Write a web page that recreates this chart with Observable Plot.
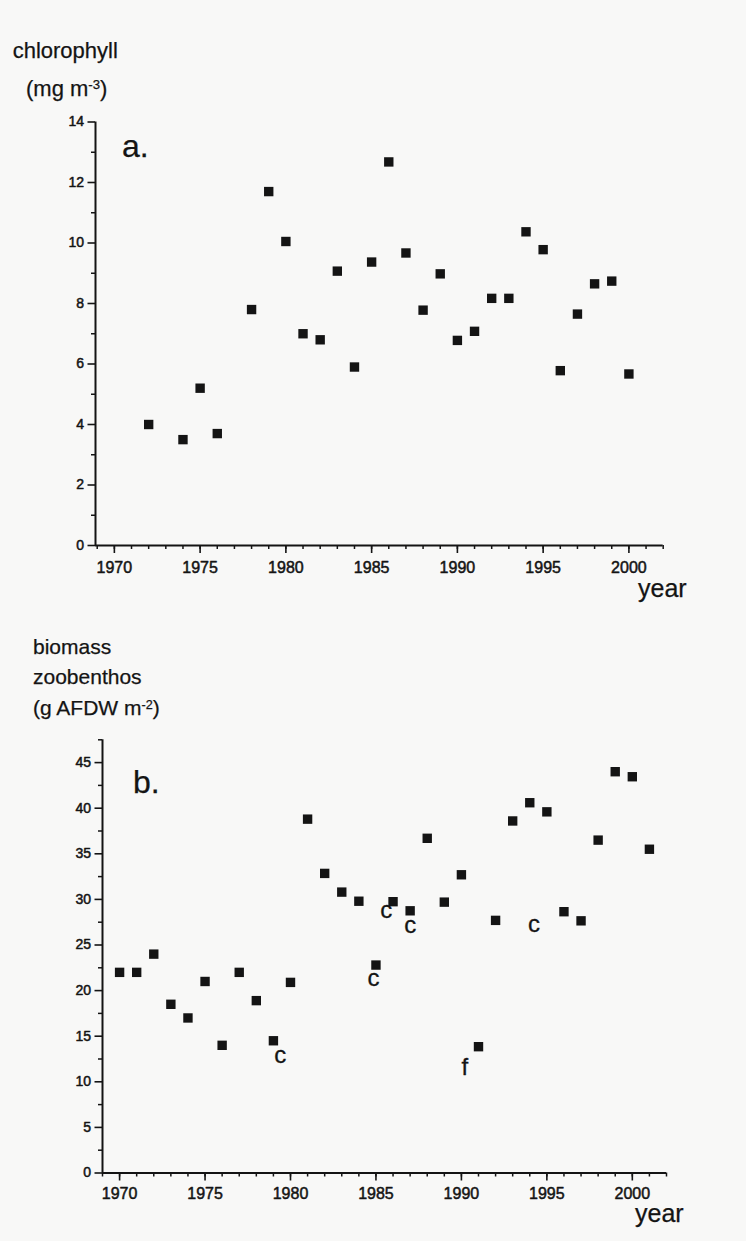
<!DOCTYPE html>
<html>
<head>
<meta charset="utf-8">
<script src="https://cdn.jsdelivr.net/npm/d3@7"></script>
<script src="https://cdn.jsdelivr.net/npm/@observablehq/plot@0.6"></script>
<style>
  html, body { margin: 0; padding: 0; background: #f8f8f7; }
  #chart { position: relative; width: 746px; height: 1241px; overflow: hidden;
           font-family: "Liberation Sans", Arial, Helvetica, sans-serif; color: #141414; }
  .panel { position: absolute; left: 0; }
  .lbl { position: absolute; white-space: nowrap; line-height: 1; -webkit-text-stroke: 0.25px #141414; }
  .sup { position: relative; top: -0.5em; font-size: 0.6em; }
</style>
</head>
<body>
<div id="chart"></div>
<script>
// ---------- data ----------
// panel a: chlorophyll (mg m-3)
const yearsA = [1972, 1974, 1975, 1976, 1978, 1979, 1980, 1981, 1982, 1983, 1984, 1985, 1986, 1987,
                1988, 1989, 1990, 1991, 1992, 1993, 1994, 1995, 1996, 1997, 1998, 1999, 2000];
const chlorophyll = [4.0, 3.5, 5.2, 3.7, 7.8, 11.7, 10.05, 7.0, 6.8, 9.07, 5.9, 9.37, 12.68, 9.67,
                     7.78, 8.98, 6.78, 7.08, 8.17, 8.17, 10.37, 9.78, 5.78, 7.65, 8.65, 8.74, 5.67];

// panel b: biomass zoobenthos (g AFDW m-2)
const yearsB = [1970, 1971, 1972, 1973, 1974, 1975, 1976, 1977, 1978, 1979, 1980, 1981, 1982, 1983,
                1984, 1985, 1986, 1987, 1988, 1989, 1990, 1991, 1992, 1993, 1994, 1995, 1996, 1997,
                1998, 1999, 2000, 2001];
const biomass = [22.0, 22.0, 24.0, 18.5, 17.0, 21.0, 14.0, 22.0, 18.9, 14.5, 20.9, 38.8, 32.85, 30.8,
                 29.8, 22.8, 29.75, 28.75, 36.7, 29.7, 32.7, 13.85, 27.7, 38.6, 40.6, 39.6, 28.65, 27.65,
                 36.5, 44.0, 43.45, 35.5];

// annotation letters in panel b
const noteYears  = [1979.4, 1984.85, 1985.6, 1987.0, 1994.25, 1990.2];
const noteValues = [12.9, 21.4, 28.8, 27.2, 27.3, 11.6];
const noteTexts  = ["c", "c", "c", "c", "c", "f"];

// ticks
const xMajorTicks = [1970, 1975, 1980, 1985, 1990, 1995, 2000];
const xMinorTicks = d3.range(1969, 2003);
const yMajorTicksA = [0, 2, 4, 6, 8, 10, 12, 14];
const yMinorTicksA = [1, 3, 5, 7, 9, 11, 13];
const yMajorTicksB = [0, 5, 10, 15, 20, 25, 30, 35, 40, 45];
const yMinorTicksB = [2.5, 7.5, 12.5, 17.5, 22.5, 27.5, 32.5, 37.5, 42.5, 47.5];

const xDomainA = [1968.9, 2002];
const yDomainA = [0, 14];
const xDomainB = [1969, 2002];
const yDomainB = [0, 47.5];

// ---------- helpers ----------
const INK = "#141414";
const FONT = "'Liberation Sans', Arial, Helvetica, sans-serif";
const chart = document.getElementById("chart");

function addLabel(html, left, baseline, size) {
  const d = document.createElement("div");
  d.className = "lbl";
  d.style.left = left + "px";
  d.style.top = (baseline - 0.8465 * size) + "px";
  d.style.fontSize = size + "px";
  d.innerHTML = html;
  chart.appendChild(d);
}

function panel(opts) {
  const pts = opts.years.map((y, i) => ({year: y, value: opts.values[i]}));
  const notes = (opts.notes || []);
  const svg = Plot.plot({
    width: 746,
    height: opts.height,
    marginTop: opts.marginTop,
    marginBottom: opts.marginBottom,
    marginLeft: opts.marginLeft,
    marginRight: opts.marginRight,
    style: {background: "transparent", fontFamily: FONT, color: INK, overflow: "visible"},
    x: {domain: opts.xDomain},
    y: {domain: opts.yDomain},
    marks: [
      Plot.axisX({ticks: xMinorTicks, tickSize: 4, tickFormat: () => "", label: null,
                  stroke: INK, strokeWidth: 1.5}),
      Plot.axisX({ticks: xMajorTicks, tickSize: 8, tickPadding: opts.xPad, tickFormat: d => String(d),
                  label: null, stroke: INK, fill: INK, strokeWidth: 1.6, fontSize: 16,
                  textStroke: INK, textStrokeWidth: 0.5}),
      Plot.axisY({ticks: opts.yMinor, tickSize: 4, tickFormat: () => "", label: null,
                  stroke: INK, strokeWidth: 1.5}),
      Plot.axisY({ticks: opts.yMajor, tickSize: 7.5, tickPadding: 4, tickFormat: d => String(d),
                  label: null, stroke: INK, fill: INK, strokeWidth: 1.6, fontSize: 14,
                  textStroke: INK, textStrokeWidth: 0.5}),
      Plot.ruleY([opts.yDomain[0]], {stroke: INK, strokeWidth: 2}),
      Plot.ruleX([opts.xDomain[0]], {stroke: INK, strokeWidth: 2}),
      Plot.dot(pts, {x: "year", y: "value", symbol: "square", r: 5.3, fill: INK, stroke: "none"}),
      Plot.text(notes, {x: "year", y: "value", text: "label", fontSize: 24, fill: INK,
                        stroke: INK, strokeWidth: 0.3})
    ]
  });
  const wrap = document.createElement("div");
  wrap.className = "panel";
  wrap.style.top = opts.top + "px";
  wrap.appendChild(svg);
  chart.appendChild(wrap);
}

// ---------- panel a ----------
panel({
  top: 0, height: 610, marginTop: 121.5, marginBottom: 65, marginLeft: 95, marginRight: 83.3,
  xDomain: xDomainA, yDomain: yDomainA, yMajor: yMajorTicksA, yMinor: yMinorTicksA,
  years: yearsA, values: chlorophyll, xPad: 8.5
});

// ---------- panel b ----------
panel({
  top: 610, height: 631, marginTop: 129.3, marginBottom: 68.5, marginLeft: 102, marginRight: 80,
  xDomain: xDomainB, yDomain: yDomainB, yMajor: yMajorTicksB, yMinor: yMinorTicksB,
  years: yearsB, values: biomass, xPad: 6.5,
  notes: noteYears.map((y, i) => ({year: y, value: noteValues[i], label: noteTexts[i]}))
});

// ---------- text ----------
addLabel("chlorophyll", 12.7, 58.3, 22);
addLabel('(mg m<span class="sup">-3</span>)', 26, 96.7, 22);
addLabel("a.", 122, 157, 32);
addLabel("year", 638, 596.7, 25);

addLabel("biomass", 33, 653.3, 21);
addLabel("zoobenthos", 33, 683.3, 21);
addLabel('(g AFDW m<span class="sup">-2</span>)', 33, 715, 21);
addLabel("b.", 133, 793, 32);
addLabel("year", 635, 1221.7, 25);
</script>
</body>
</html>
